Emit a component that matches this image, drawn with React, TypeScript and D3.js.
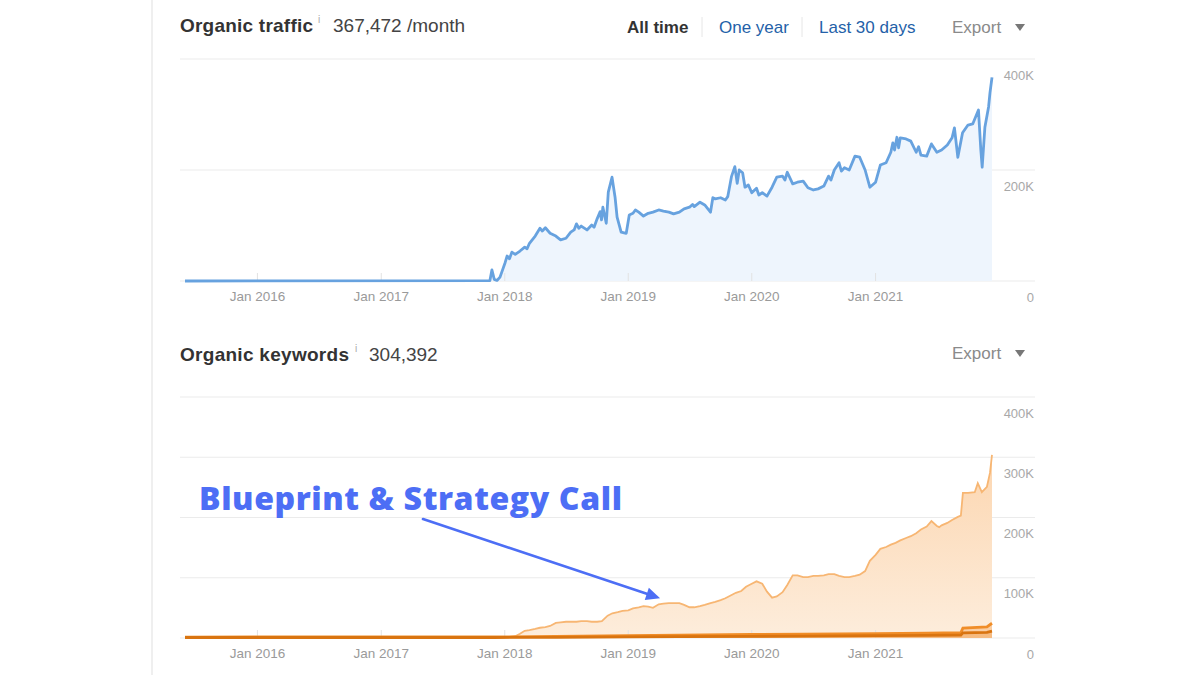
import React from 'react';
import * as d3 from 'd3';

// organic traffic, thousands / month
const trafficPoints: [string, number][] = [
  ['2015-06-01', 0], ['2017-11-18', 0.5], ['2017-11-24', 20], ['2017-12-01', 3], ['2017-12-09', 1],
  ['2017-12-18', 7], ['2018-01-02', 33], ['2018-01-08', 45], ['2018-01-15', 40], ['2018-01-22', 52],
  ['2018-02-01', 48], ['2018-02-15', 54], ['2018-03-01', 61], ['2018-03-08', 58], ['2018-03-15', 68],
  ['2018-04-01', 81], ['2018-04-15', 95], ['2018-04-22', 90], ['2018-05-01', 96], ['2018-05-15', 86],
  ['2018-06-01', 81], ['2018-06-15', 74], ['2018-07-01', 77], ['2018-07-15', 88], ['2018-07-25', 92],
  ['2018-08-01', 103], ['2018-08-08', 95], ['2018-08-15', 99], ['2018-09-01', 92], ['2018-09-15', 101],
  ['2018-09-22', 97], ['2018-10-01', 112], ['2018-10-10', 125], ['2018-10-14', 110], ['2018-10-18', 133],
  ['2018-10-28', 104], ['2018-11-03', 160], ['2018-11-14', 187], ['2018-11-23', 151], ['2018-11-29', 115],
  ['2018-12-11', 88], ['2018-12-26', 86], ['2019-01-04', 119], ['2019-01-15', 122], ['2019-01-22', 128],
  ['2019-02-01', 124], ['2019-02-15', 117], ['2019-03-01', 122], ['2019-03-15', 124], ['2019-04-01', 128],
  ['2019-04-15', 126], ['2019-05-01', 124], ['2019-05-15', 121], ['2019-06-01', 124], ['2019-06-15', 130],
  ['2019-07-01', 133], ['2019-07-10', 138], ['2019-07-15', 134], ['2019-08-01', 142], ['2019-08-15', 137],
  ['2019-09-01', 124], ['2019-09-08', 150], ['2019-09-15', 148], ['2019-10-01', 150], ['2019-10-15', 146],
  ['2019-10-22', 152], ['2019-11-02', 188], ['2019-11-12', 206], ['2019-11-19', 176], ['2019-11-25', 200],
  ['2019-12-05', 195], ['2019-12-12', 169], ['2019-12-22', 173], ['2020-01-01', 159], ['2020-01-15', 167],
  ['2020-01-22', 155], ['2020-02-01', 159], ['2020-02-15', 153], ['2020-03-01', 169], ['2020-03-15', 187],
  ['2020-04-01', 189], ['2020-04-08', 182], ['2020-04-15', 196], ['2020-05-01', 175], ['2020-05-15', 178],
  ['2020-06-01', 180], ['2020-06-15', 168], ['2020-07-01', 164], ['2020-07-15', 166], ['2020-08-01', 171],
  ['2020-08-15', 189], ['2020-08-22', 182], ['2020-09-01', 200], ['2020-09-15', 213], ['2020-09-22', 198],
  ['2020-10-01', 204], ['2020-10-15', 200], ['2020-11-01', 225], ['2020-11-15', 223], ['2020-12-01', 200],
  ['2020-12-15', 169], ['2021-01-01', 178], ['2021-01-15', 209], ['2021-02-01', 213], ['2021-02-15', 232],
  ['2021-02-21', 249], ['2021-02-26', 236], ['2021-03-05', 259], ['2021-03-10', 240], ['2021-03-15', 258],
  ['2021-04-01', 256], ['2021-04-15', 252], ['2021-05-01', 232], ['2021-05-08', 242], ['2021-05-15', 227],
  ['2021-06-01', 225], ['2021-06-15', 247], ['2021-07-01', 232], ['2021-07-15', 236], ['2021-08-01', 245],
  ['2021-08-15', 258], ['2021-08-22', 276], ['2021-09-01', 223], ['2021-09-15', 267], ['2021-10-01', 281],
  ['2021-10-15', 283], ['2021-11-01', 308], ['2021-11-08', 236], ['2021-11-12', 205], ['2021-11-20', 277],
  ['2021-12-01', 314], ['2021-12-05', 339], ['2021-12-11', 367],
];

// organic keywords, all positions, thousands
const keywordTotal: [string, number][] = [
  ['2015-06-01', 1.5], ['2017-12-01', 1.5], ['2018-01-15', 2], ['2018-02-01', 3], ['2018-02-15', 7],
  ['2018-03-01', 12], ['2018-03-15', 13], ['2018-04-01', 15], ['2018-04-15', 17], ['2018-05-01', 18],
  ['2018-05-15', 20], ['2018-06-01', 25], ['2018-06-15', 26], ['2018-07-01', 27], ['2018-07-15', 27],
  ['2018-08-01', 27], ['2018-08-15', 28], ['2018-09-01', 28], ['2018-09-15', 27], ['2018-10-01', 27],
  ['2018-10-15', 28], ['2018-11-01', 37], ['2018-11-15', 41], ['2018-12-01', 43], ['2018-12-15', 45],
  ['2019-01-01', 46], ['2019-01-15', 49], ['2019-02-01', 51], ['2019-02-15', 53], ['2019-03-01', 52],
  ['2019-03-15', 50], ['2019-04-01', 56], ['2019-04-15', 57], ['2019-05-01', 58], ['2019-05-15', 58],
  ['2019-06-01', 58], ['2019-06-15', 55], ['2019-07-01', 51], ['2019-07-15', 51], ['2019-08-01', 53],
  ['2019-08-15', 55], ['2019-09-01', 58], ['2019-09-15', 60], ['2019-10-01', 63], ['2019-10-15', 66],
  ['2019-11-01', 71], ['2019-11-15', 75], ['2019-12-01', 78], ['2019-12-15', 85], ['2020-01-01', 90],
  ['2020-01-15', 94], ['2020-02-01', 90], ['2020-02-15', 77], ['2020-03-01', 67], ['2020-03-15', 69],
  ['2020-04-01', 76], ['2020-04-15', 88], ['2020-05-01', 104], ['2020-05-15', 104], ['2020-06-01', 101],
  ['2020-06-15', 101], ['2020-07-01', 103], ['2020-07-15', 103], ['2020-08-01', 104], ['2020-08-15', 106],
  ['2020-09-01', 106], ['2020-09-15', 103], ['2020-10-01', 101], ['2020-10-15', 101], ['2020-11-01', 103],
  ['2020-11-15', 105], ['2020-12-01', 111], ['2020-12-15', 128], ['2021-01-01', 138], ['2021-01-15', 148],
  ['2021-02-01', 151], ['2021-02-15', 155], ['2021-03-01', 158], ['2021-03-15', 162], ['2021-04-01', 166],
  ['2021-04-15', 169], ['2021-05-01', 174], ['2021-05-15', 180], ['2021-06-01', 185], ['2021-06-15', 194],
  ['2021-07-01', 186], ['2021-07-08', 184], ['2021-07-15', 187], ['2021-08-01', 191], ['2021-08-15', 196],
  ['2021-09-01', 201], ['2021-09-10', 203], ['2021-09-16', 241], ['2021-10-01', 241], ['2021-10-21', 242],
  ['2021-10-30', 257], ['2021-11-11', 242], ['2021-11-26', 251], ['2021-12-05', 274], ['2021-12-11', 304],
];

// top positions bands, thousands
const bandDates = [
  '2015-06-01', '2017-12-01', '2018-06-01', '2019-01-01', '2019-06-01', '2020-01-01', '2020-06-01',
  '2021-01-01', '2021-06-01', '2021-09-10', '2021-09-16', '2021-11-26', '2021-12-11',
];
const top3Values = [0.8, 0.8, 1.2, 1.8, 2.2, 2.8, 3.2, 3.8, 4.3, 5, 8.5, 9.5, 11.5];
const top4to10Values = [0.8, 0.9, 1.5, 2.2, 2.5, 3, 3.3, 3.6, 3.8, 4, 8, 9, 13];

const tickYears = [2016, 2017, 2018, 2019, 2020, 2021];
const trafficTicks = [0, 200000, 400000];
const keywordTicks = [0, 100000, 200000, 300000, 400000];

const font = '"Liberation Sans", Arial, Helvetica, sans-serif';
const gridColor = '#ebebeb';

export default function App() {
  const parse = d3.timeParse('%Y-%m-%d');
  const traffic = trafficPoints.map(([d, v]) => ({ date: parse(d)!, value: v * 1000 }));
  const keywords = keywordTotal.map(([d, v]) => ({ date: parse(d)!, value: v * 1000 }));
  const bandRows = bandDates.map((d, i) => ({
    date: parse(d)!,
    top3: top3Values[i] * 1000,
    top4to10: top4to10Values[i] * 1000,
  }));
  const stacked = d3.stack<any>().keys(['top3', 'top4to10'])(bandRows);

  const x = d3
    .scaleTime()
    .domain([traffic[0].date, traffic[traffic.length - 1].date])
    .range([185, 992]);
  const yTop = d3.scaleLinear().domain([0, 400000]).range([281, 59]);
  const yBot = d3.scaleLinear().domain([0, 400000]).range([638, 397]);
  const fmtDate = d3.timeFormat('%b %Y');
  const fmtVal = (v: number) => (v === 0 ? '0' : `${v / 1000}K`);

  const trafficLine = d3
    .line<{ date: Date; value: number }>()
    .x((d) => x(d.date))
    .y((d) => yTop(d.value));
  const trafficArea = d3
    .area<{ date: Date; value: number }>()
    .x((d) => x(d.date))
    .y0(yTop(0))
    .y1((d) => yTop(d.value));
  const kwLine = d3
    .line<{ date: Date; value: number }>()
    .x((d) => x(d.date))
    .y((d) => yBot(d.value));
  const kwArea = d3
    .area<{ date: Date; value: number }>()
    .x((d) => x(d.date))
    .y0(yBot(0))
    .y1((d) => yBot(d.value));
  const bandArea = d3
    .area<any>()
    .x((d) => x(d.data.date))
    .y0((d) => yBot(d[0]))
    .y1((d) => yBot(d[1]));
  const bandLine = d3
    .line<any>()
    .x((d) => x(d.data.date))
    .y((d) => yBot(d[1]));

  const yearTicks = tickYears.map((y) => new Date(y, 0, 1));

  // annotation arrow
  const ax0 = 423;
  const ay0 = 519;
  const ax1 = x(parse('2019-04-05')!);
  const ay1 = yBot(66000);
  const ang = Math.atan2(ay1 - ay0, ax1 - ax0);
  const head = 14;
  const hw = 6.5;
  const bx = ax1 - head * Math.cos(ang);
  const by = ay1 - head * Math.sin(ang);
  const headPts = [
    [ax1, ay1],
    [bx + hw * Math.sin(ang), by - hw * Math.cos(ang)],
    [bx - hw * Math.sin(ang), by + hw * Math.cos(ang)],
  ]
    .map((p) => p.join(','))
    .join(' ');

  const xAxis = (baseline: number) => (
    <g>
      {yearTicks.map((d) => (
        <g key={d.getFullYear()}>
          <line x1={x(d)} x2={x(d)} y1={baseline - 8} y2={baseline} stroke="#e2e2e2" />
          <text x={x(d)} y={baseline + 20} textAnchor="middle" fontSize={13.5} fill="#9a9a9a">
            {fmtDate(d)}
          </text>
        </g>
      ))}
    </g>
  );

  const yAxis = (ticks: number[], y: d3.ScaleLinear<number, number>) => (
    <g>
      {ticks.map((t) => (
        <g key={t}>
          <line x1={180} x2={1035} y1={y(t)} y2={y(t)} stroke={gridColor} />
          <text x={1034} y={y(t) + 20.5} textAnchor="end" fontSize={13} fill="#a8a8a8">
            {fmtVal(t)}
          </text>
        </g>
      ))}
    </g>
  );

  return (
    <svg
      width={1200}
      height={675}
      style={{ position: 'absolute', left: 0, top: 0, background: '#fff' }}
      fontFamily={font}
    >
      <rect width={1200} height={675} fill="#fff" />
      <line x1={152} x2={152} y1={0} y2={675} stroke="#efefef" strokeWidth={2} />

      {/* traffic header */}
      <text x={180} y={32} fontSize={19} fontWeight="bold" fill="#333" textLength={133}>
        Organic traffic
      </text>
      <text x={318} y={23} fontSize={10} fill="#aaa">
        i
      </text>
      <text x={333} y={32} fontSize={19} fill="#444">
        367,472 /month
      </text>
      <text x={627} y={33} fontSize={17} fontWeight="bold" fill="#333">
        All time
      </text>
      <line x1={702} x2={702} y1={17} y2={37} stroke="#e6e6e6" />
      <text x={719} y={33} fontSize={17} fill="#2461a8">
        One year
      </text>
      <line x1={802} x2={802} y1={17} y2={37} stroke="#e6e6e6" />
      <text x={819} y={33} fontSize={17} fill="#2461a8">
        Last 30 days
      </text>
      <text x={952} y={33} fontSize={17} fill="#8a8a8a">
        Export
      </text>
      <path d="M1015,24 L1025,24 L1020,31 Z" fill="#777" />

      {/* traffic chart */}
      {yAxis(trafficTicks, yTop)}
      <path d={trafficArea(traffic)!} fill="#eef5fd" />
      {xAxis(yTop(0))}
      <path
        d={trafficLine(traffic)!}
        fill="none"
        stroke="#67a2df"
        strokeWidth={2.8}
        strokeLinejoin="round"
      />

      {/* keywords header */}
      <text x={180} y={361} fontSize={19} fontWeight="bold" fill="#333" textLength={169}>
        Organic keywords
      </text>
      <text x={355} y={352} fontSize={10} fill="#aaa">
        i
      </text>
      <text x={369} y={361} fontSize={19} fill="#444">
        304,392
      </text>
      <text x={952} y={359} fontSize={17} fill="#8a8a8a">
        Export
      </text>
      <path d="M1015,350 L1025,350 L1020,357 Z" fill="#777" />

      {/* keywords chart */}
      <defs>
        <linearGradient id="kwFill" x1="0" y1="0" x2="0" y2="1">
          <stop offset="0%" stopColor="#fcd6b0" />
          <stop offset="100%" stopColor="#fdeddc" />
        </linearGradient>
      </defs>
      {yAxis(keywordTicks, yBot)}
      <path d={kwArea(keywords)!} fill="url(#kwFill)" />
      {xAxis(yBot(0))}
      <path d={kwLine(keywords)!} fill="none" stroke="#f7b673" strokeWidth={1.8} />
      <path d={bandArea(stacked[1])!} fill="#f8c28c" opacity={0.7} />
      <path d={bandArea(stacked[0])!} fill="#f2a55a" opacity={0.7} />
      <path d={bandLine(stacked[1])!} fill="none" stroke="#f08d28" strokeWidth={2.8} />
      <path d={bandLine(stacked[0])!} fill="none" stroke="#d97410" strokeWidth={2.8} />

      {/* annotation */}
      <text
        x={199}
        y={510}
        fontFamily='"Open Sans", "DejaVu Sans", sans-serif'
        fontSize={32}
        fontWeight={800}
        fill="#4d6ef5"
        textLength={423}
        lengthAdjust="spacing"
      >
        Blueprint &amp; Strategy Call
      </text>
      <line
        x1={ax0}
        y1={ay0}
        x2={bx}
        y2={by}
        stroke="#4d6ef5"
        strokeWidth={2.6}
        strokeLinecap="round"
      />
      <polygon points={headPts} fill="#4d6ef5" />
    </svg>
  );
}
